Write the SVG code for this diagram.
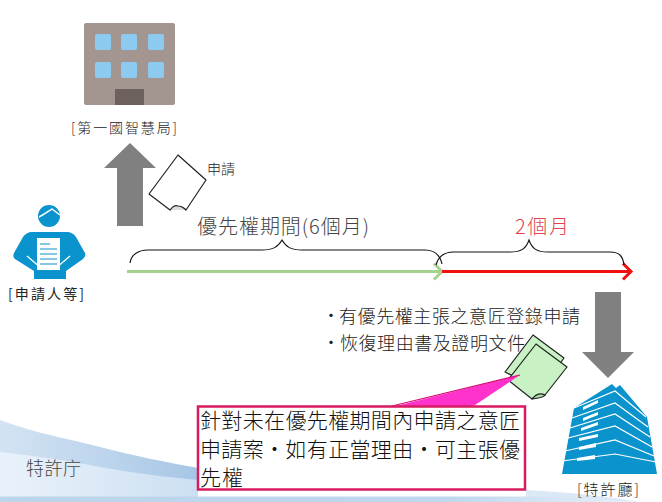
<svg xmlns="http://www.w3.org/2000/svg" width="662" height="502" viewBox="0 0 662 502" lang="zh-TW">
<defs>
<linearGradient id="bg1" x1="0" y1="0" x2="1" y2="0"><stop offset="0" stop-color="#d3e3f3"/><stop offset="0.55" stop-color="#bcd4ec"/><stop offset="1" stop-color="#a6c6e6"/></linearGradient>
<linearGradient id="bg2" x1="0" y1="0" x2="1" y2="0"><stop offset="0" stop-color="#e9f2fb"/><stop offset="0.6" stop-color="#d9e7f5"/><stop offset="1" stop-color="#cbdff2"/></linearGradient>
<linearGradient id="bg3" x1="0" y1="0" x2="1" y2="0"><stop offset="0" stop-color="#bcd5ec"/><stop offset="0.7" stop-color="#c0d8ee"/><stop offset="1" stop-color="#e6f0f9"/></linearGradient>
<marker id="ag" markerUnits="userSpaceOnUse" markerWidth="14" markerHeight="20" refX="11" refY="10" orient="auto"><path d="M3 2L11 10L3 18" fill="none" stroke="#a9d18e" stroke-width="3"/></marker>
<marker id="ar" markerUnits="userSpaceOnUse" markerWidth="14" markerHeight="20" refX="11" refY="10" orient="auto"><path d="M3 2L11 10L3 18" fill="none" stroke="#f01010" stroke-width="3"/></marker>
</defs>
<style>
text{font-family:"Noto Sans CJK TC","Noto Sans CJK JP",sans-serif;font-weight:300}
.l{fill:#222;font-size:14px}
.b{fill:#222;font-size:18px}
.c{fill:#111;font-size:21px}
.t{fill:#444;font-size:20px}
.doc{stroke:#222;stroke-width:1.2;stroke-linejoin:round}
.brace{fill:none;stroke:#111;stroke-width:1.1}
.arrow{fill:#808080}
.blue{fill:#0a93cd}
.win{fill:#8ccbef}
</style>
<g id="background">
<path d="M0 420C35 433 65 438 100 447C135 456 165 462 198 468V502H0Z" fill="url(#bg1)"/>
<path d="M0 452C35 456 65 460 100 467C135 473 165 477 198 480V502H0Z" fill="url(#bg2)"/>
<path d="M526 490C570 492 610 497 640 502H526Z" fill="#dbe9f6"/>
<path d="M0 496.500H560L640 502H0Z" fill="url(#bg3)"/>
</g>
<g id="first-office">
<rect x="84" y="23" width="91" height="82" rx="2" fill="#a39690"/>
<rect class="win" x="95" y="34" width="16" height="16" rx="2"/><rect class="win" x="121" y="34" width="16" height="16" rx="2"/><rect class="win" x="148" y="34" width="16" height="16" rx="2"/>
<rect class="win" x="95" y="62" width="16" height="16" rx="2"/><rect class="win" x="121" y="62" width="16" height="16" rx="2"/><rect class="win" x="148" y="62" width="16" height="16" rx="2"/>
<rect x="115" y="89" width="29" height="16" fill="#6c615d"/>
<text class="l" x="124" y="133" text-anchor="middle" textLength="106">[第一國智慧局]</text>
</g>
<g id="applicant">
<circle cx="49" cy="216" r="11" class="blue"/>
<path d="M39 217C45 214 49 211 52 209C55 211 57 213 60 215" fill="none" stroke="#fff" stroke-width="1.5"/>
<path d="M32 232H66C71 232 74 234 76 237L85 253C86 255 85 257 83 259L66 271V279H34V271L15 259C13 257 13 255 14 253L23 237C25 234 28 232 32 232Z" class="blue"/>
<path d="M37 238H60V270H37Z" fill="#fff"/>
<path d="M40 244H50M40 249H57M40 254H57M40 259H57M40 264H57" stroke="#5fb6dc" stroke-width="1.4"/>
<path d="M27 256L41 268M70 256L56 268" stroke="#fff" stroke-width="1.3"/>
<text x="46" y="299" text-anchor="middle" textLength="76" style="fill:#222;font-size:14px;font-weight:400">[申請人等]</text>
</g>
<g id="application-doc">
<path class="doc" d="M178 155L206 180L186 210C182 206 176 206 170 210L149 194Z" fill="#fff"/>
<path class="doc" d="M170 210C173 206 176 205 178 206C181 206 184 208 186 210" fill="#ddd"/>
<text x="207" y="174" style="fill:#222;font-size:14px">申請</text>
</g>
<g id="period-labels">
<text class="t" x="197" y="234" textLength="172">優先權期間(6個月)</text>
<text x="515" y="234" textLength="54" style="fill:#e0444e;font-size:20px">2個月</text>
</g>
<g id="connectors">
<path class="arrow" d="M130 143L156 168H143V226H117V168H104Z"/>
<path class="arrow" d="M595 292H621V352H634L608 378L582 352H595Z"/>
<path d="M127 271.500H442" stroke="#a9d18e" stroke-width="3" fill="none" marker-end="url(#ag)"/>
<path d="M442 271.500H631" stroke="#f01010" stroke-width="3" fill="none" marker-end="url(#ar)"/>
<path class="brace" d="M130 263C131 255 138 250 148 250H262C273 250 278 247 282 240C286 247 291 250 302 250H425C435 250 440 255 442 264"/>
<path class="brace" d="M436 265C438 257 444 252 454 252H510C521 252 526 249 529 240C532 249 537 252 548 252H610C620 252 623 257 624 265"/>
</g>
<g id="requirements">
<text class="b" x="322" y="322">・</text><text class="b" x="339" y="323" textLength="241">有優先權主張之意匠登錄申請</text>
<text class="b" x="322" y="349">・</text><text class="b" x="340" y="350" textLength="185">恢復理由書及證明文件</text>
</g>
<g id="green-docs">
<path class="doc" d="M533 335L564 358L541 390L505 372Z" fill="#c9f2c4"/>
<path class="doc" d="M536 344L567 367L545 395C541 394 537 395 532 399L508 380Z" fill="#c9f2c4"/>
<path class="doc" d="M532 399C536 394 541 393 545 395C544 397 541 398 532 399Z" fill="#aedba6"/>
</g>
<g id="callout">
<path d="M392 407L520 375L472 407Z" fill="#ff33cc"/>
<path d="M392 406L520 375" stroke="#d01070" stroke-width="1.2"/>
<rect x="198" y="406.500" width="327" height="83" fill="#fff" stroke="#d81b60" stroke-width="2.500"/>
<text class="c" x="200" y="428" textLength="320">針對未在優先權期間內申請之意匠</text>
<text class="c" x="200" y="457" textLength="320">申請案・如有正當理由・可主張優</text>
<text class="c" x="200" y="485" textLength="43">先權</text>
</g>
<g id="patent-office">
<path class="blue" d="M574 408L612 384L616 388L620 385L647 417L657 474H562Z"/>
<path d="M574 408L615 391L646 417M572 418L615 403L648 427M570 428L615 414L650 437M568 438L615 426L652 447M565 451L615 440L654 456M562 461L615 454L656 462" fill="none" stroke="#fff" stroke-width="1.200"/>
<path d="M583 407L598 400V403L583 410ZM583 418L598 412V415L583 421ZM581 428L598 422V425L581 431ZM579 438L598 434V437L579 441ZM579 447L596 443V447L579 450ZM577 458L595 455V459L577 461Z" fill="#fff"/>
<text x="608" y="495" text-anchor="middle" textLength="62" style="fill:#222;font-size:15px">[特許廳]</text>
</g>
<text x="26" y="475" textLength="55" style="fill:#444;font-size:18px">特許庁</text>
</svg>
